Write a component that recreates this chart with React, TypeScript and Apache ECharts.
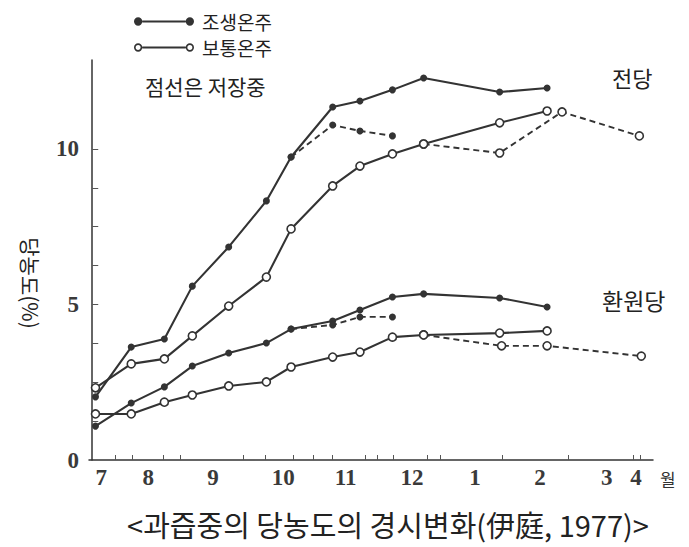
import React, { useEffect, useRef } from 'react';
import * as echarts from 'echarts';

// x axis: months (value axis in approx. month units from the axis origin)
const monthLabels = ['7', '8', '9', '10', '11', '12', '1', '2', '3', '4'];
const monthLabelPos = [0.14, 0.86, 1.86, 2.94, 3.9, 4.92, 5.89, 6.89, 7.92, 8.37];
const xTickPos = [0.35, 0.62, 1.09, 1.35, 2.32, 2.66, 3.09, 3.4, 3.69, 4.2, 4.38, 4.63, 5.15, 5.35, 6.31, 7.32, 8.32, 8.43];

// y axis
const yLabelValues = [0, 5, 10];
const yTickValues = [1.25, 2.5, 3.75, 5, 6.25, 7.5, 8.75, 10];

// sampling dates (on the tree)
const dates = [0.05, 0.6, 1.11, 1.54, 2.1, 2.68, 3.06, 3.7, 4.12, 4.62, 5.1, 6.27, 7.0];
// 전당 (total sugar)
const earlyTotal = [2.03, 3.63, 3.89, 5.59, 6.85, 8.33, 9.74, 11.35, 11.54, 11.9, 12.28, 11.83, 11.96];
const normalTotal = [2.32, 3.09, 3.25, 3.99, 4.95, 5.88, 7.43, 8.81, 9.45, 9.84, 10.16, 10.84, 11.22];
// 환원당 (reducing sugar)
const earlyReducing = [1.09, 1.83, 2.35, 3.02, 3.44, 3.76, 4.21, 4.47, 4.82, 5.24, 5.34, 5.21, 4.92];
const normalReducing = [1.48, 1.48, 1.86, 2.09, 2.38, 2.51, 2.99, 3.31, 3.47, 3.95, 4.02, 4.08, 4.15];

// storage (dashed)
const earlyStoreDates = [3.06, 3.7, 4.12, 4.62];
const earlyTotalStore = [9.74, 10.77, 10.58, 10.42];
const earlyReducingStore = [4.21, 4.34, 4.6, 4.6];
const normalTotalStoreDates = [5.1, 6.27, 7.23, 8.42];
const normalTotalStore = [10.16, 9.87, 11.19, 10.42];
const normalReducingStoreDates = [5.1, 6.3, 7.0, 8.45];
const normalReducingStore = [4.02, 3.67, 3.67, 3.34];

const ink = '#333';
const textInk = '#222';
const sans = '"Noto Sans CJK KR", "Noto Sans", sans-serif';
const serif = '"Liberation Serif", "DejaVu Serif", serif';

const pts = (xs: number[], ys: number[]) => xs.map((x, i) => [x, ys[i]]);

const filledIcon =
  'path://M1,5A4,4,0,1,0,9,5A4,4,0,1,0,1,5Z M9,4L51,4L51,6L9,6Z M51,5A4,4,0,1,0,59,5A4,4,0,1,0,51,5Z';
const hollowIcon =
  'path://M1,5A4,4,0,1,0,9,5A4,4,0,1,0,1,5Z M2.6,5A2.4,2.4,0,1,1,7.4,5A2.4,2.4,0,1,1,2.6,5Z M9,4L51,4L51,6L9,6Z M51,5A4,4,0,1,0,59,5A4,4,0,1,0,51,5Z M52.6,5A2.4,2.4,0,1,1,57.4,5A2.4,2.4,0,1,1,52.6,5Z';

const makeSeries = (name: string, xs: number[], ys: number[], filled: boolean, dashed: boolean) => ({
  type: 'line',
  name,
  data: pts(xs, ys),
  symbol: 'circle',
  symbolSize: filled ? 7 : 8,
  showAllSymbol: true,
  lineStyle: { color: ink, width: dashed ? 1.9 : 2.1, type: dashed ? [6, 4] : 'solid' },
  itemStyle: filled
    ? { color: ink, borderWidth: 0 }
    : { color: '#fff', borderColor: ink, borderWidth: 1.6 },
  emphasis: { disabled: true },
  z: filled ? 3 : 4,
});

export default function App() {
  const ref = useRef<HTMLDivElement>(null);
  useEffect(() => {
    const chart = echarts.init(ref.current!, null, { renderer: 'svg' });
    const nearestLabel = (v: number) => {
      let best = 0;
      for (let i = 0; i < monthLabelPos.length; i++) {
        if (Math.abs(monthLabelPos[i] - v) < Math.abs(monthLabelPos[best] - v)) best = i;
      }
      return monthLabels[best];
    };
    chart.setOption({
      animation: false,
      backgroundColor: '#fff',
      grid: { left: 89, right: 36, top: 60, bottom: 87 },
      legend: {
        orient: 'vertical',
        left: 129,
        top: 7,
        itemWidth: 60,
        itemHeight: 10,
        itemGap: 7,
        selectedMode: false,
        textStyle: { fontSize: 19, color: textInk, fontFamily: sans, padding: [0, 0, 0, 3] },
        data: [
          { name: '조생온주', icon: filledIcon, itemStyle: { color: ink, borderWidth: 0 } },
          { name: '보통온주', icon: hollowIcon, itemStyle: { color: ink, borderWidth: 0 } },
        ],
      },
      xAxis: {
        type: 'value',
        min: -0.05,
        max: 8.63,
        name: '월',
        nameLocation: 'end',
        nameGap: 7,
        nameTextStyle: { fontSize: 17, fontFamily: sans, color: ink, verticalAlign: 'top', padding: [10, 0, 0, 0] },
        axisLine: { show: true, lineStyle: { color: ink, width: 1.5 } },
        axisTick: { show: true, inside: true, length: 5, customValues: xTickPos, lineStyle: { color: '#555', width: 1 } },
        axisLabel: {
          customValues: monthLabelPos,
          formatter: (v: number) => nearestLabel(v),
          margin: 6,
          fontSize: 23,
          fontWeight: 'bold',
          fontFamily: serif,
          color: '#3a3a3a',
        },
        splitLine: { show: false },
      },
      yAxis: {
        type: 'value',
        min: 0,
        max: 12.86,
        name: '당농도(%)',
        nameLocation: 'middle',
        nameRotate: -90,
        nameGap: 48,
        nameTextStyle: { fontSize: 21, fontFamily: sans, color: textInk, padding: [0, 0, 0, 46] },
        axisLine: { show: true, lineStyle: { color: ink, width: 1.5 } },
        axisTick: { show: true, inside: true, length: 6, customValues: yTickValues, lineStyle: { color: '#555', width: 1 } },
        axisLabel: { customValues: yLabelValues, margin: 10, fontSize: 23, fontWeight: 'bold', fontFamily: serif, color: '#3a3a3a' },
        splitLine: { show: false },
      },
      graphic: [
        { type: 'text', x: 145, y: 86, style: { text: '점선은 저장중', fontSize: 21, fontFamily: sans, fill: textInk, verticalAlign: 'middle' } },
        { type: 'text', x: 612, y: 77, style: { text: '전당', fontSize: 22, fontFamily: sans, fill: textInk, verticalAlign: 'middle' } },
        { type: 'text', x: 602, y: 300, style: { text: '환원당', fontSize: 23, fontFamily: sans, fill: textInk, verticalAlign: 'middle' } },
        { type: 'text', x: 388, y: 524, style: { text: '<과즙중의 당농도의 경시변화(伊庭, 1977)>', fontSize: 29, fontFamily: sans, fill: textInk, align: 'center', verticalAlign: 'middle' } },
      ],
      series: [
        makeSeries('조생온주', dates, earlyTotal, true, false),
        makeSeries('보통온주', dates, normalTotal, false, false),
        makeSeries('조생온주 환원당', dates, earlyReducing, true, false),
        makeSeries('보통온주 환원당', dates, normalReducing, false, false),
        makeSeries('조생온주 전당 저장', earlyStoreDates, earlyTotalStore, true, true),
        makeSeries('조생온주 환원당 저장', earlyStoreDates, earlyReducingStore, true, true),
        makeSeries('보통온주 전당 저장', normalTotalStoreDates, normalTotalStore, false, true),
        makeSeries('보통온주 환원당 저장', normalReducingStoreDates, normalReducingStore, false, true),
      ],
    });
    return () => chart.dispose();
  }, []);
  return <div ref={ref} style={{ position: 'fixed', left: 0, top: 0, width: 689, height: 547 }} />;
}
